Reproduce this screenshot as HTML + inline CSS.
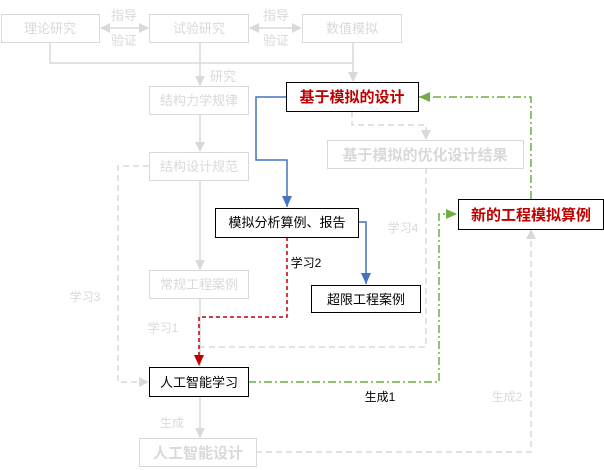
<!DOCTYPE html>
<html><head><meta charset="utf-8"><style>
html,body{margin:0;padding:0;background:#fff;}
svg{display:block;font-family:"Liberation Sans","Noto Sans CJK SC",sans-serif;}
</style></head><body>
<svg width="604" height="470" viewBox="0 0 604 470" xmlns="http://www.w3.org/2000/svg">
<defs>
<marker id="ag" markerWidth="10" markerHeight="10" refX="9" refY="5" orient="auto" markerUnits="userSpaceOnUse"><path d="M0,0 L10,5 L0,10 z" fill="#d9d9d9"/></marker>
<marker id="agr" markerWidth="10" markerHeight="10" refX="1" refY="5" orient="auto" markerUnits="userSpaceOnUse"><path d="M10,0 L0,5 L10,10 z" fill="#d9d9d9"/></marker>
<marker id="ab" markerWidth="12" markerHeight="10" refX="11" refY="5" orient="auto" markerUnits="userSpaceOnUse"><path d="M0,0 L11,5 L0,10 z" fill="#4472c4"/></marker>
<marker id="ar" markerWidth="12" markerHeight="10" refX="11" refY="5" orient="auto" markerUnits="userSpaceOnUse"><path d="M0,0 L11,5 L0,10 z" fill="#c00000"/></marker>
<marker id="agn" markerWidth="12" markerHeight="10" refX="11" refY="5" orient="auto" markerUnits="userSpaceOnUse"><path d="M0,0 L11,5 L0,10 z" fill="#70ad47"/></marker>
</defs>
<g fill="none" stroke="#d9d9d9" stroke-width="1.5">
<!-- top double arrows -->
<line x1="101" y1="28" x2="148" y2="28" marker-start="url(#agr)" marker-end="url(#ag)"/>
<line x1="250" y1="28" x2="301" y2="28" marker-start="url(#agr)" marker-end="url(#ag)"/>
<polyline points="50,42 50,63 353,63"/>
<line x1="353" y1="42" x2="353" y2="81" marker-end="url(#ag)"/>
<line x1="200" y1="42" x2="200" y2="85" marker-end="url(#ag)"/>
<line x1="200" y1="114" x2="200" y2="151" marker-end="url(#ag)"/>
<line x1="200" y1="180" x2="200" y2="269" marker-end="url(#ag)"/>
<line x1="200" y1="298" x2="200" y2="366"/>
<line x1="200" y1="396" x2="200" y2="437" marker-end="url(#ag)"/>
</g>
<g fill="none" stroke="#d9d9d9" stroke-width="1.5" stroke-dasharray="6,4">
<polyline points="352,111 352,125 426,125 426,139" marker-end="url(#ag)"/>
<polyline points="426,168 426,347 200,347"/>
<polyline points="149,166 118,166 118,382 148,382" marker-end="url(#ag)"/>
<polyline points="256,452 531,452 531,230" marker-end="url(#ag)"/>
</g>
<!-- blue -->
<g fill="none" stroke="#4472c4" stroke-width="1.5">
<polyline points="286,97 256,97 256,160 287,160 287,207" marker-end="url(#ab)"/>
<polyline points="358,222 366,222 366,284" marker-end="url(#ab)"/>
</g>
<!-- red dashed -->
<polyline points="287,237 287,317 199,317 199,366" fill="none" stroke="#c00000" stroke-width="1.5" stroke-dasharray="4,3" marker-end="url(#ar)"/>
<!-- green dash-dot -->
<g fill="none" stroke="#70ad47" stroke-width="1.5" stroke-dasharray="8,3,2,3">
<polyline points="248,382 439,382 439,214 457,214" marker-end="url(#agn)"/>
<polyline points="531,199 531,97 419,97" marker-end="url(#agn)"/>
</g>
<!-- gray boxes -->
<g fill="#fff" stroke="#d9d9d9" stroke-width="1">
<rect x="1.5" y="14.5" width="98" height="28"/>
<rect x="149.5" y="14.5" width="99" height="28"/>
<rect x="302.5" y="14.5" width="99" height="28"/>
<rect x="149.5" y="86.5" width="99" height="28"/>
<rect x="149.5" y="152.5" width="99" height="28"/>
<rect x="327.5" y="140.5" width="196" height="28"/>
<rect x="149.5" y="270.5" width="99" height="28"/>
<rect x="139.5" y="438.5" width="117" height="28"/>
</g>
<g fill="#fff" stroke="#000" stroke-width="1">
<rect x="286.5" y="82.5" width="132" height="29"/>
<rect x="215.5" y="208.5" width="143" height="29"/>
<rect x="311.5" y="285.5" width="109" height="27"/>
<rect x="149.5" y="367.5" width="99" height="29"/>
<rect x="458.5" y="199.5" width="145" height="30"/>
</g>
<g font-size="13" fill="#d9d9d9" text-anchor="middle">
<text x="50" y="33">理论研究</text>
<text x="199" y="33">试验研究</text>
<text x="352" y="33">数值模拟</text>
<text x="124" y="20">指导</text>
<text x="124" y="45">验证</text>
<text x="276" y="20">指导</text>
<text x="276" y="45">验证</text>
<text x="223" y="81">研究</text>
<text x="199" y="105">结构力学规律</text>
<text x="199" y="171">结构设计规范</text>
<text x="199" y="289">常规工程案例</text>
<text x="163" y="332" font-size="12">学习1</text>
<text x="85" y="301" font-size="12">学习3</text>
<text x="403" y="232" font-size="12">学习4</text>
<text x="172" y="427" font-size="12">生成</text>
<text x="507" y="401" font-size="12">生成2</text>
<text x="425" y="160" font-size="15" font-weight="bold">基于模拟的优化设计结果</text>
<text x="198" y="458" font-size="15" font-weight="bold">人工智能设计</text>
</g>
<g font-size="13" fill="#000" text-anchor="middle">
<text x="287" y="227">模拟分析算例、报告</text>
<text x="366" y="304">超限工程案例</text>
<text x="199" y="387">人工智能学习</text>
<text x="306" y="267" font-size="12">学习2</text>
<text x="380" y="401" font-size="12">生成1</text>
</g>
<g font-size="15" font-weight="bold" fill="#c00000" text-anchor="middle">
<text x="352" y="102">基于模拟的设计</text>
<text x="531" y="220">新的工程模拟算例</text>
</g>
</svg>
</body></html>
